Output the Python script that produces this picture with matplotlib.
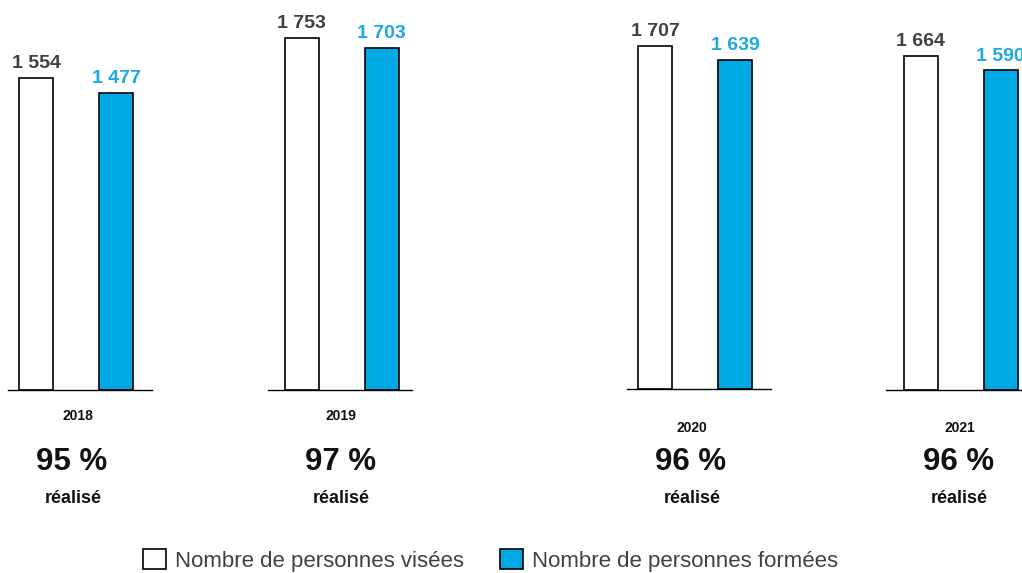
import matplotlib
matplotlib.use('Agg')
import matplotlib.pyplot as plt
from matplotlib.patches import Patch

plt.rcParams['font.family'] = ['Liberation Sans', 'DejaVu Sans']

# Données
annees = ['2018', '2019', '2020', '2021']
visees = [1554, 1753, 1707, 1664]
formees = [1477, 1703, 1639, 1590]
realise = ['95 %', '97 %', '96 %', '96 %']
legende = ['Nombre de personnes visées', 'Nombre de personnes formées']

BLEU = '#00A8E4'
BLEU_TXT = '#1AA9E2'
GRIS = '#404040'

W, H = 1022, 573
PX_PAR_UNITE = 0.201   # hauteur en pixels par personne
ECART = 80             # pixels entre les deux barres

# mise en page des panneaux (pixels) : début de la ligne de base, centre barre blanche, ligne de base
panneaux = [(8, 36.3, 390), (268, 301.5, 390), (627, 655, 389), (886, 920.5, 390)]
# textes sous les panneaux : (x centre année, y année, x centre %, x centre réalisé)
textes = [(78, 420, 72, 73), (341, 420, 341, 341), (692, 432, 691, 692), (960, 432, 959, 959)]


def fx(x):
    return x / W


def fy(y):
    return 1 - y / H


fig = plt.figure(figsize=(W / 100, H / 100), dpi=100)

for i, an in enumerate(annees):
    gauche, centre, base = panneaux[i]
    ax = fig.add_axes([fx(gauche), fy(base), 144 / W, base / H])
    ax.bar([0], [visees[i]], width=34 / ECART, color='white', edgecolor='black', linewidth=1.2)
    ax.bar([1], [formees[i]], width=34 / ECART, color=BLEU, edgecolor='black', linewidth=1.2)
    x0 = -(centre - gauche) / ECART
    ax.set_xlim(x0, x0 + 144 / ECART)
    ax.set_ylim(0, base / PX_PAR_UNITE)
    for s in ['top', 'left', 'right']:
        ax.spines[s].set_visible(False)
    ax.spines['bottom'].set_color('black')
    ax.spines['bottom'].set_linewidth(1.0)
    ax.set_xticks([])
    ax.set_yticks([])
    ax.patch.set_alpha(0)

    ax.annotate(f'{visees[i]:,}'.replace(',', ' '), xy=(0, visees[i]), xytext=(0, 7),
                textcoords='offset points', ha='center', va='baseline',
                fontsize=14, fontweight='bold', color=GRIS, annotation_clip=False)
    ax.annotate(f'{formees[i]:,}'.replace(',', ' '), xy=(1, formees[i]), xytext=(0, 7),
                textcoords='offset points', ha='center', va='baseline',
                fontsize=14, fontweight='bold', color=BLEU_TXT, annotation_clip=False)

    xa, ya, xp, xr = textes[i]
    fig.text(fx(xa), fy(ya), an, ha='center', va='baseline', fontsize=10, fontweight='bold', color='#111111')
    fig.text(fx(xp), fy(470), realise[i], ha='center', va='baseline', fontsize=22.5, fontweight='bold', color='#111111')
    fig.text(fx(xr), fy(503), 'réalisé', ha='center', va='baseline', fontsize=13, fontweight='bold', color='#111111')

poignees = [Patch(facecolor='white', edgecolor='black', linewidth=1.2),
            Patch(facecolor=BLEU, edgecolor='black', linewidth=1.2)]
leg = fig.legend(poignees, legende, ncol=2, loc='upper left', bbox_to_anchor=(fx(143), fy(549)),
                 frameon=False, fontsize=16, borderpad=0, borderaxespad=0,
                 handlelength=1.04, handleheight=1.04, handletextpad=0.4, columnspacing=1.6)
for t in leg.get_texts():
    t.set_color(GRIS)

plt.savefig('out.png', dpi=100)
plt.close()
